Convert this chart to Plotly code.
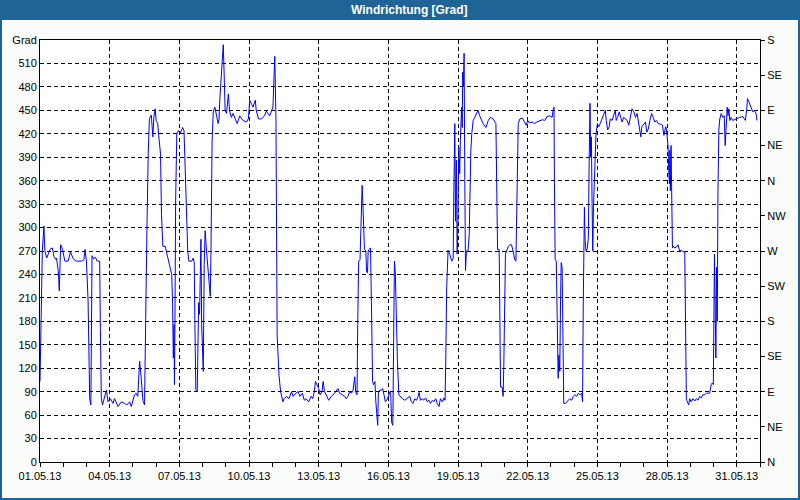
import pandas as pd
import plotly.graph_objects as go

# time offsets in days since 01.05.2013 00:00 and wind direction in degrees
days = [
    0.00, 0.03, 0.06, 0.10, 0.17, 0.21, 0.29, 0.43, 0.53, 0.60, 0.69, 0.71, 0.79, 0.83, 0.86, 0.89, 0.97,
    1.07, 1.21, 1.31, 1.43, 1.57, 1.79, 1.89, 1.94, 2.00, 2.07, 2.10, 2.14, 2.19, 2.21, 2.24, 2.31, 2.39,
    2.46, 2.57, 2.60, 2.64, 2.69, 2.79, 2.86, 2.93, 3.03, 3.14, 3.21, 3.36, 3.50, 3.64, 3.74, 3.86, 3.93,
    4.07, 4.14, 4.21, 4.29, 4.36, 4.43, 4.50, 4.54, 4.57, 4.61, 4.66, 4.71, 4.79, 4.86, 4.90, 4.96, 5.00,
    5.07, 5.11, 5.19, 5.23, 5.27,
    5.29, 5.39, 5.46, 5.53, 5.67, 5.71, 5.74, 5.77, 5.79, 5.81, 5.84, 5.89, 5.96, 6.03, 6.14, 6.20, 6.24,
    6.36, 6.41, 6.53, 6.60, 6.64, 6.67, 6.71, 6.77, 6.80, 6.83, 6.87, 6.91, 6.93, 6.96, 7.03, 7.07, 7.11,
    7.17, 7.24, 7.29, 7.33, 7.36, 7.39, 7.41, 7.46, 7.53, 7.67, 7.71, 7.74, 7.79, 7.89, 7.93, 7.97, 8.03,
    8.11, 8.16, 8.24, 8.31, 8.43, 8.49, 8.60, 8.74, 8.89, 8.97, 9.03, 9.10, 9.17, 9.27, 9.31, 9.41, 9.53,
    9.67, 9.74, 9.89, 10.03, 10.07, 10.11, 10.16, 10.19, 10.21, 10.29,
    10.36, 10.46, 10.51, 10.61, 10.72, 10.83, 10.90, 11.01, 11.12, 11.19, 11.30, 11.38, 11.45, 11.57,
    11.67, 11.74, 11.81, 11.86, 11.91, 12.00, 12.06, 12.14, 12.19, 12.25, 12.32, 12.43, 12.54, 12.68,
    12.83, 12.90, 13.01, 13.12, 13.19, 13.26, 13.33, 13.41, 13.48, 13.55, 13.59, 13.65, 13.68, 13.72,
    13.78, 13.83, 13.87, 13.90, 13.93, 13.97, 14.03, 14.06, 14.10, 14.13, 14.17, 14.23, 14.28, 14.32,
    14.36, 14.42, 14.46, 14.51, 14.54, 14.57, 14.64, 14.71, 14.75, 14.81, 14.87, 14.96, 15.01, 15.07,
    15.10, 15.14, 15.19, 15.23, 15.26, 15.30, 15.35, 15.39, 15.45, 15.51,
    15.60, 15.71, 15.81, 15.92, 15.99, 16.06, 16.14, 16.21, 16.28, 16.32, 16.38, 16.47, 16.52, 16.61,
    16.67, 16.75, 16.81, 16.90, 16.95, 17.04, 17.10, 17.18, 17.24, 17.33, 17.39, 17.44, 17.47, 17.51,
    17.57, 17.64, 17.73, 17.79, 17.82, 17.86, 17.89, 17.93, 17.96, 18.00, 18.03, 18.07, 18.10, 18.15,
    18.18, 18.20, 18.23, 18.26, 18.29, 18.32, 18.36, 18.43, 18.48, 18.51, 18.55, 18.59, 18.65, 18.72,
    18.79, 18.86, 18.93, 19.01, 19.08, 19.20, 19.30, 19.40, 19.51, 19.63, 19.65, 19.70, 19.77, 19.80,
    19.83, 19.90, 19.94, 19.97, 20.01, 20.04, 20.09, 20.16, 20.23, 20.30, 20.37, 20.44, 20.49, 20.51,
    20.54, 20.59, 20.66, 20.77,
    20.86, 20.93, 21.00, 21.07, 21.19, 21.29, 21.39, 21.51, 21.63, 21.73, 21.83, 21.94, 22.05, 22.09,
    22.13, 22.15, 22.18, 22.23, 22.28, 22.31, 22.34, 22.38, 22.41, 22.44, 22.48, 22.52, 22.55, 22.63,
    22.70, 22.76, 22.81, 22.89, 22.96, 23.03, 23.10, 23.18, 23.25, 23.32, 23.36, 23.39, 23.44, 23.47,
    23.51, 23.57, 23.61, 23.64, 23.68, 23.71, 23.74, 23.77, 23.80, 23.83, 23.86, 23.90, 23.94, 24.00,
    24.06, 24.12, 24.19, 24.26, 24.34, 24.38, 24.44, 24.51, 24.55, 24.63, 24.70, 24.77, 24.81, 24.87,
    24.94, 25.02, 25.06, 25.13, 25.20, 25.28, 25.35, 25.42, 25.49, 25.57, 25.64, 25.71, 25.78, 25.83,
    25.87, 25.91, 26.00, 26.07,
    26.12, 26.19, 26.26, 26.33, 26.40, 26.47, 26.54, 26.62, 26.72, 26.80, 26.86, 26.90, 26.94, 26.97,
    27.00, 27.04, 27.07, 27.10, 27.12, 27.14, 27.17, 27.20, 27.23, 27.26, 27.33, 27.40, 27.47, 27.54,
    27.62, 27.69, 27.76, 27.79, 27.83, 27.87, 27.93, 27.97, 28.04, 28.11, 28.19, 28.26, 28.33, 28.40,
    28.47, 28.54, 28.62, 28.69, 28.76, 28.83, 28.90, 28.94, 28.99, 29.00, 29.04, 29.07, 29.10, 29.13,
    29.16, 29.19, 29.23, 29.27, 29.33, 29.40, 29.46, 29.50, 29.54, 29.59, 29.62, 29.66, 29.70, 29.76,
    29.83, 29.90, 30.00, 30.12, 30.26, 30.37, 30.43, 30.46, 30.52, 30.59, 30.64, 30.69, 30.76, 30.83,
    30.87,
]

degrees = [
    103, 137, 201, 270, 302, 270, 261, 272, 274, 263, 259, 261, 244, 219, 248, 278, 272,
    257, 257, 269, 260, 257, 257, 259, 272, 257, 206, 137, 81, 73, 167, 264, 260, 262,
    257, 257, 171, 81, 73, 86, 92, 77, 81, 75, 81, 71, 77, 75, 73, 77, 71,
    86, 88, 84, 129, 107, 79, 73, 171, 268, 309, 394, 439, 444, 416, 441, 452, 437,
    433, 418, 394, 317, 276,
    276, 276, 266, 257, 240, 202, 133, 176, 99, 176, 334, 420, 424, 420, 428, 424, 390,
    270, 257, 257, 261, 255, 176, 92, 90, 146, 204, 189, 238, 285, 176, 116, 253, 296,
    270, 240, 223, 212, 266, 349, 411, 448, 454, 433, 439, 463, 489, 534, 495, 450, 446,
    471, 450, 441, 446, 437, 433, 443, 437, 435, 439, 463, 458, 454, 463, 450, 439, 439,
    443, 449, 443, 454, 489, 519, 437, 270, 163, 111,
    90, 77, 81, 84, 81, 90, 84, 88, 90, 84, 88, 79, 81, 77,
    84, 81, 90, 103, 99, 94, 86, 90, 103, 90, 86, 79, 84, 88,
    94, 88, 86, 84, 81, 84, 90, 88, 92, 109, 90, 86, 176, 257,
    259, 308, 354, 332, 308, 272, 270, 244, 242, 270, 272, 274, 184, 103,
    99, 103, 77, 58, 47, 90, 92, 92, 94, 86, 77, 81, 86, 90,
    86, 51, 47, 165, 257, 240, 150, 129, 86, 84,
    81, 79, 81, 84, 77, 75, 81, 79, 84, 89, 79, 81, 79, 82,
    77, 79, 75, 79, 77, 81, 75, 71, 81, 77, 82, 79, 129, 223,
    271, 266, 257, 261, 347, 433, 308, 386, 266, 317, 403, 369, 411, 454,
    428, 499, 480, 523, 360, 245, 270, 270, 291, 369, 398, 420, 437, 441,
    446, 450, 443, 437, 433, 428, 437, 441, 439, 433, 356, 272, 272, 184,
    96, 96, 84, 124, 206, 266, 270, 276, 278, 278, 270, 259, 257, 304,
    390, 433, 439, 440,
    435, 431, 437, 434, 435, 433, 435, 437, 438, 437, 442, 443, 441, 450,
    454, 356, 259, 257, 182, 107, 137, 116, 201, 255, 249, 154, 75, 75,
    77, 79, 81, 79, 84, 86, 84, 88, 86, 88, 77, 201, 326, 283,
    270, 274, 287, 373, 459, 390, 416, 330, 270, 326, 347, 381, 420, 433,
    429, 433, 439, 446, 450, 437, 425, 429, 439, 437, 443, 450, 437, 441,
    448, 437, 435, 441, 439, 437, 431, 443, 452, 448, 441, 446, 433, 422,
    416, 429, 433, 435,
    422, 426, 437, 446, 441, 435, 437, 433, 432, 431, 418, 426, 429, 426,
    411, 405, 373, 356, 399, 347, 405, 339, 274, 276, 274, 275, 278, 270,
    271, 269, 269, 176, 81, 77, 73, 81, 77, 81, 78, 81, 79, 84,
    82, 86, 86, 88, 88, 88, 99, 101, 99, 180, 266, 197, 133, 249,
    180, 347, 426, 439, 446, 441, 443, 405, 426, 454, 443, 452, 437, 441,
    437, 438, 439, 441, 442, 437, 452, 465, 461, 456, 452, 448, 450, 446,
    437,
]

left_tick_values = list(range(0, 541, 30))
left_tick_labels = [str(v) for v in range(0, 511, 30)] + ["Grad"]
right_tick_values = list(range(0, 541, 45))
right_tick_labels = ["N", "NE", "E", "SE", "S", "SW", "W", "NW", "N", "NE", "E", "SE", "S"]
title_text = "Windrichtung [Grad]"

start = pd.Timestamp("2013-05-01")
times = start + pd.to_timedelta(days, unit="D")

FONT = "Liberation Sans"
DAY_MS = 86400000

fig = go.Figure()
fig.add_trace(go.Scatter(x=times, y=degrees, mode="lines",
                         line=dict(color="#0000ff", width=1),
                         showlegend=False, hoverinfo="x+y"))
fig.add_trace(go.Scatter(x=[times[0]], y=[0], mode="markers", yaxis="y2",
                         marker=dict(opacity=0), showlegend=False, hoverinfo="skip"))

fig.update_layout(
    width=800, height=500,
    margin=dict(l=40, r=40, t=40, b=38),
    paper_bgcolor="#fafcfa",
    plot_bgcolor="#ffffff",
    font=dict(family=FONT, size=11, color="#000000"),
    xaxis=dict(
        type="date", automargin=False,
        range=["2013-05-01", "2013-06-01"],
        tick0="2013-05-01", dtick=3 * DAY_MS,
        tickformat="%d.%m.%y",
        ticks="outside", ticklen=4, tickcolor="#000000",
        minor=dict(dtick=DAY_MS, tick0="2013-05-01", ticks="outside", ticklen=4,
                   tickcolor="#000000", showgrid=False),
        showgrid=True, gridcolor="#000000", gridwidth=1, griddash="4px,3px",
        showline=True, linecolor="#000000", linewidth=1, mirror=True,
        zeroline=False,
        tickfont=dict(family=FONT, size=11, color="#000000"),
    ),
    yaxis=dict(
        range=[0, 540], automargin=False,
        tickmode="array", tickvals=left_tick_values, ticktext=left_tick_labels,
        ticks="", showgrid=True, gridcolor="#000000", gridwidth=1, griddash="4px,3px",
        showline=True, linecolor="#000000", linewidth=1, mirror=True,
        zeroline=False,
        tickfont=dict(family=FONT, size=11, color="#000000"),
    ),
    yaxis2=dict(
        range=[0, 540], overlaying="y", side="right", automargin=False,
        tickmode="array", tickvals=right_tick_values, ticktext=right_tick_labels,
        ticks="outside", ticklen=4, tickcolor="#000000",
        showgrid=False, zeroline=False, showline=True, linecolor="#000000",
        tickfont=dict(family=FONT, size=11, color="#000000"),
    ),
    shapes=[
        dict(type="rect", xref="paper", yref="paper",
             x0=-40 / 720, x1=1 + 40 / 720, y0=1 + 20 / 422, y1=1 + 40 / 422,
             fillcolor="#1e6496", line=dict(width=0), layer="above"),
        dict(type="rect", xref="paper", yref="paper",
             x0=-39 / 720, x1=1 + 39 / 720, y0=-37 / 422, y1=1 + 39 / 422,
             fillcolor="rgba(0,0,0,0)", line=dict(color="#1e6496", width=2), layer="above"),
    ],
    annotations=[
        dict(text=title_text, xref="paper", yref="paper",
             x=(410 - 40) / 720, y=1 + 30 / 422, xanchor="center", yanchor="middle",
             showarrow=False,
             font=dict(family=FONT, size=12, color="#ffffff", weight="bold")),
    ],
)

fig.write_html(
    "out.html",
    config={"displayModeBar": False},
    post_script="document.body.style.margin='0';document.body.style.padding='0';"
                "document.documentElement.style.overflow='hidden';",
)
